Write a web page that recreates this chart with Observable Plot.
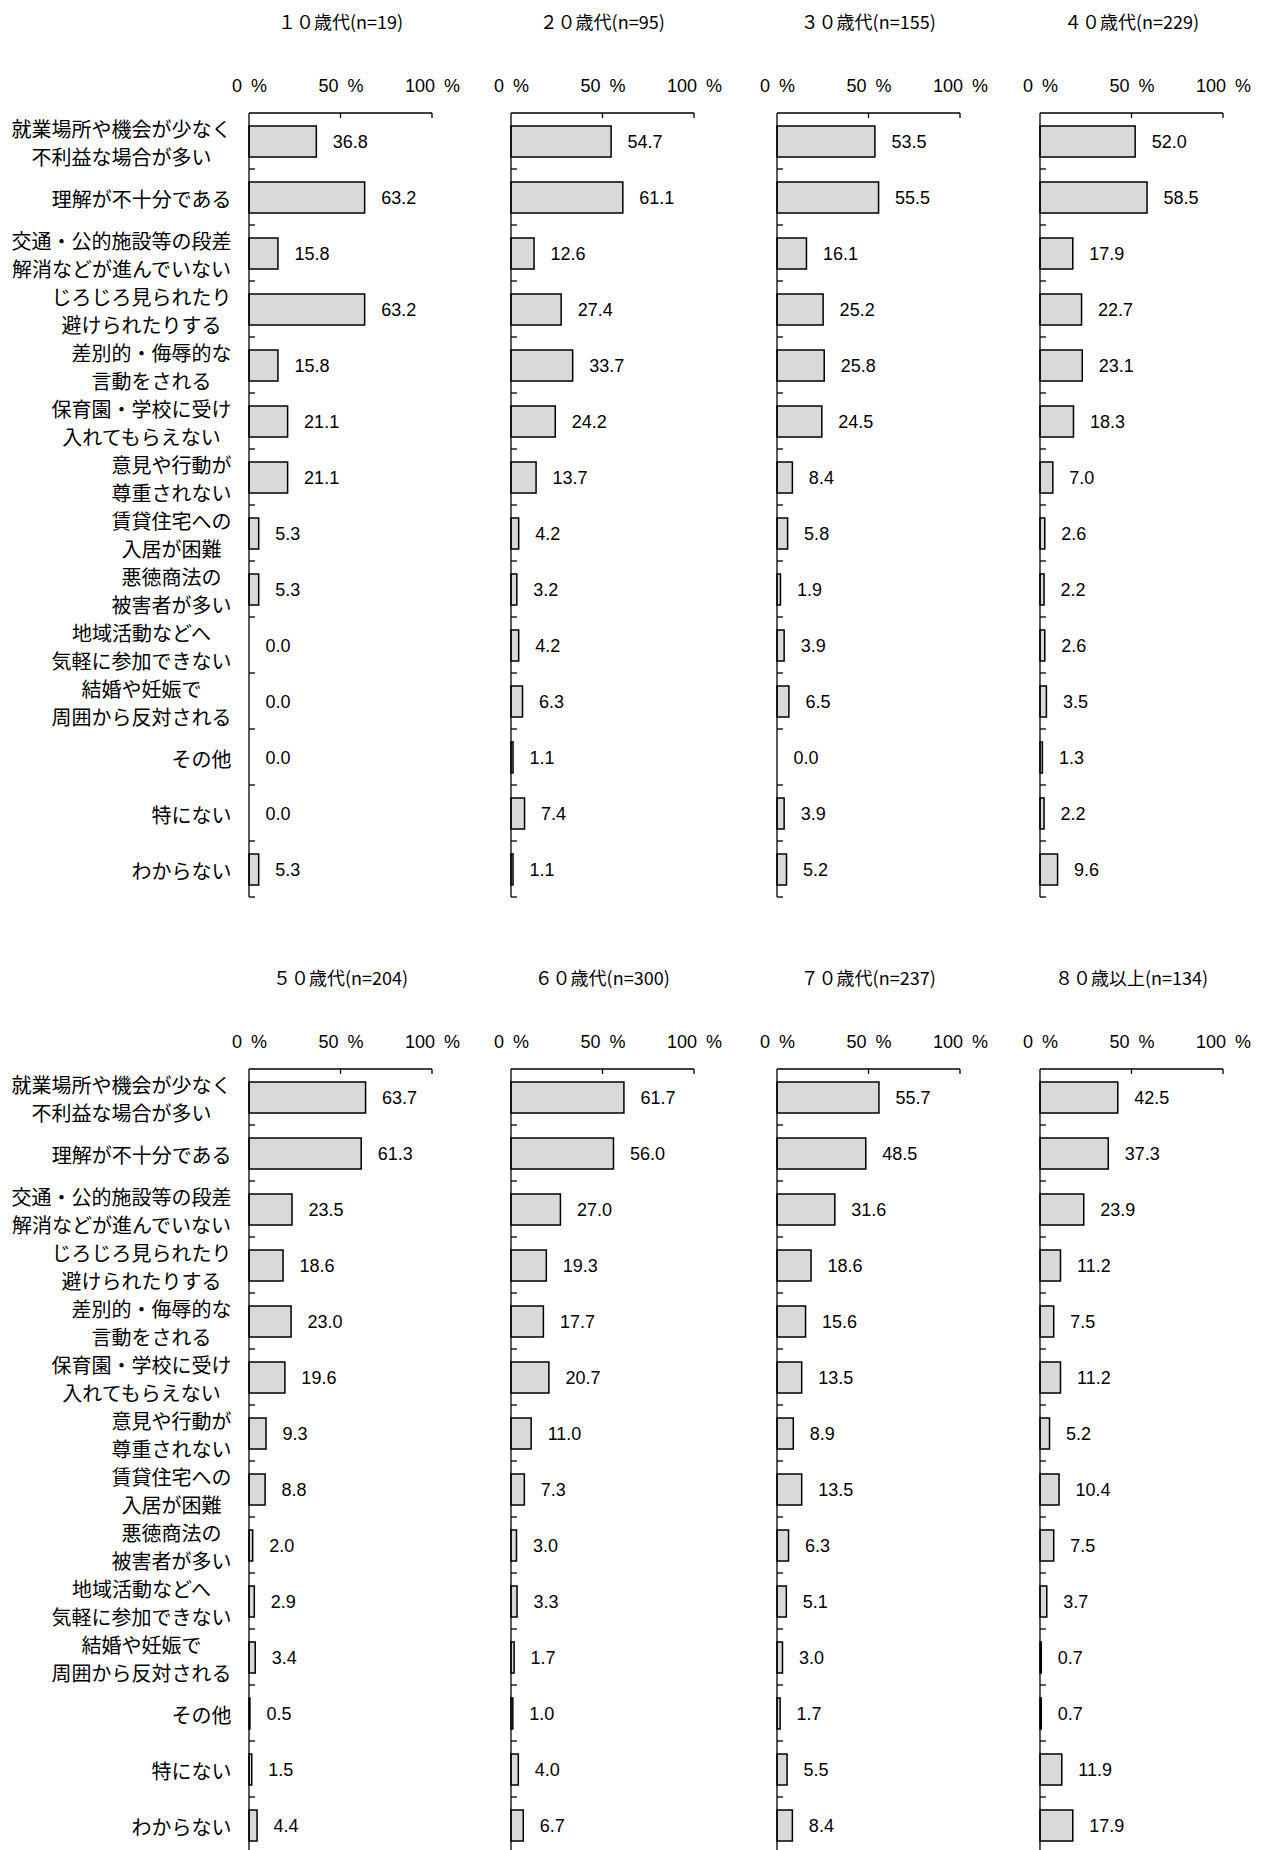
<!DOCTYPE html>
<html>
<head>
<meta charset="utf-8">
<script src="https://cdn.jsdelivr.net/npm/d3@7"></script>
<script src="https://cdn.jsdelivr.net/npm/@observablehq/plot@0.6"></script>
<style>
  html, body { margin: 0; padding: 0; background: #fff; }
  #root { position: relative; width: 1263px; height: 1850px; overflow: hidden; background: #fff; }
  .panel { position: absolute; }
  .title { position: absolute; text-align: center; font-family: "Noto Sans CJK JP", sans-serif; font-size: 18px; line-height: 20px; color: #000; white-space: nowrap; }
  .panel svg { position: absolute; overflow: visible; max-width: none !important; }
</style>
</head>
<body>
<div id="root"></div>
<script>
// ---- data ----
const categories = [
  "就業場所や機会が少なく\n不利益な場合が多い",
  "理解が不十分である",
  "交通・公的施設等の段差\n解消などが進んでいない",
  "じろじろ見られたり\n避けられたりする",
  "差別的・侮辱的な\n言動をされる",
  "保育園・学校に受け\n入れてもらえない",
  "意見や行動が\n尊重されない",
  "賃貸住宅への\n入居が困難",
  "悪徳商法の\n被害者が多い",
  "地域活動などへ\n気軽に参加できない",
  "結婚や妊娠で\n周囲から反対される",
  "その他",
  "特にない",
  "わからない"
];

const groupTitles = [
  "１０歳代(n=19)", "２０歳代(n=95)", "３０歳代(n=155)", "４０歳代(n=229)",
  "５０歳代(n=204)", "６０歳代(n=300)", "７０歳代(n=237)", "８０歳以上(n=134)"
];

const age10 = [36.8, 63.2, 15.8, 63.2, 15.8, 21.1, 21.1, 5.3, 5.3, 0.0, 0.0, 0.0, 0.0, 5.3];
const age20 = [54.7, 61.1, 12.6, 27.4, 33.7, 24.2, 13.7, 4.2, 3.2, 4.2, 6.3, 1.1, 7.4, 1.1];
const age30 = [53.5, 55.5, 16.1, 25.2, 25.8, 24.5, 8.4, 5.8, 1.9, 3.9, 6.5, 0.0, 3.9, 5.2];
const age40 = [52.0, 58.5, 17.9, 22.7, 23.1, 18.3, 7.0, 2.6, 2.2, 2.6, 3.5, 1.3, 2.2, 9.6];
const age50 = [63.7, 61.3, 23.5, 18.6, 23.0, 19.6, 9.3, 8.8, 2.0, 2.9, 3.4, 0.5, 1.5, 4.4];
const age60 = [61.7, 56.0, 27.0, 19.3, 17.7, 20.7, 11.0, 7.3, 3.0, 3.3, 1.7, 1.0, 4.0, 6.7];
const age70 = [55.7, 48.5, 31.6, 18.6, 15.6, 13.5, 8.9, 13.5, 6.3, 5.1, 3.0, 1.7, 5.5, 8.4];
const age80 = [42.5, 37.3, 23.9, 11.2, 7.5, 11.2, 5.2, 10.4, 7.5, 3.7, 0.7, 0.7, 11.9, 17.9];

const xTicks = [0, 50, 100];
const tickLabel = d => d + "\u2002%";

const series = [age10, age20, age30, age40, age50, age60, age70, age80];

// ---- layout ----
const axisZero = [249, 510.7, 776.7, 1040];
const plotW = 183;
const rowStep = 956;
const svgTop = 40;
const marginTop = 73;
const bandStep = 56;
const marginBottom = 6;
const JP = '"Noto Sans CJK JP", "Noto Sans CJK SC", sans-serif';
const LAT = '"Liberation Sans", Arial, sans-serif';

const root = document.getElementById("root");
const ns = "http://www.w3.org/2000/svg";

function axisLines(index, scales, values, dims) {
  const {width, height} = dims;
  const ml = dims.marginLeft, mr = dims.marginRight, mt = dims.marginTop, mb = dims.marginBottom;
  const x0 = ml, x1 = width - mr, y0 = mt, y1 = height - mb;
  const n = categories.length, step = (y1 - y0) / n;
  const xs = typeof scales.x === "function" ? scales.x : (v => x0 + (x1 - x0) * v / 100);
  const g = document.createElementNS(ns, "g");
  g.setAttribute("stroke", "#000");
  g.setAttribute("stroke-width", "1.3");
  g.setAttribute("fill", "none");
  const line = (a, b, c, d) => {
    const l = document.createElementNS(ns, "line");
    l.setAttribute("x1", a); l.setAttribute("y1", b);
    l.setAttribute("x2", c); l.setAttribute("y2", d);
    g.appendChild(l);
  };
  line(x0, y0, xs(100), y0);
  for (const t of xTicks) if (t > 0) line(xs(t), y0, xs(t), y0 + 5);
  line(x0, y0, x0, y1);
  for (let i = 1; i <= n; i++) line(x0, y0 + i * step, x0 + 6, y0 + i * step);
  return g;
}

series.forEach((vals, k) => {
  const row = Math.floor(k / 4), col = k % 4;
  const ml = col === 0 ? axisZero[0] : 40;
  const mr = 40;
  const W = ml + plotW + mr;
  const H = marginTop + bandStep * categories.length + marginBottom;
  const panel = document.createElement("div");
  panel.className = "panel";
  panel.style.left = (axisZero[col] - ml) + "px";
  panel.style.top = (row * rowStep) + "px";
  panel.style.width = W + "px";
  panel.style.height = (svgTop + H) + "px";
  root.appendChild(panel);

  const title = document.createElement("div");
  title.className = "title";
  title.textContent = groupTitles[k];
  title.style.left = ml + "px";
  title.style.width = plotW + "px";
  title.style.top = "11px";
  panel.appendChild(title);

  const rows = categories.map((c, i) => ({category: c, value: vals[i]}));

  const marks = [
    Plot.barX(rows, {x: "value", y: "category", fill: "#d9d9d9", stroke: "#000", strokeWidth: 1.5}),
    Plot.text(rows, {x: "value", y: "category", text: d => d.value.toFixed(1), textAnchor: "start", dx: 16, fontSize: 18, fontFamily: LAT, fill: "#000"}),
    Plot.axisX({anchor: "top", ticks: xTicks, tickFormat: tickLabel, tickSize: 0, tickPadding: 22, fontSize: 18, fontFamily: LAT, fill: "#000", label: null}),
    axisLines
  ];
  if (col === 0) {
    marks.push(Plot.axisY({tickSize: 0, tickPadding: 18, fontSize: 20, fontFamily: JP, lineHeight: 1.4, fill: "#000", label: null}));
  }

  const chart = Plot.plot({
    width: W,
    height: H,
    marginLeft: ml,
    marginRight: mr,
    marginTop: marginTop,
    marginBottom: marginBottom,
    x: {domain: [0, 100], axis: null, label: null},
    y: {domain: categories, paddingInner: 0.45, paddingOuter: 0.225, axis: null, label: null},
    style: {fontFamily: LAT, fontSize: "18px", color: "#000", background: "transparent", overflow: "visible", maxWidth: "none"},
    marks
  });
  chart.style.top = svgTop + "px";
  chart.style.left = "0px";
  chart.style.width = W + "px";
  chart.style.height = H + "px";
  chart.style.maxWidth = "none";
  panel.appendChild(chart);

  // centre the lines of multi-line category labels within their block
  if (col === 0) {
    chart.querySelectorAll('g[aria-label="y-axis tick label"] text').forEach(t => {
      const spans = Array.from(t.querySelectorAll("tspan"));
      if (spans.length < 2) return;
      const ws = spans.map(s => s.getComputedTextLength());
      const Wm = Math.max(...ws);
      spans.forEach((s, i) => {
        const base = +(s.getAttribute("x") || 0);
        s.setAttribute("x", base - (Wm - ws[i]) / 2);
      });
    });
  }
});
</script>
</body>
</html>
